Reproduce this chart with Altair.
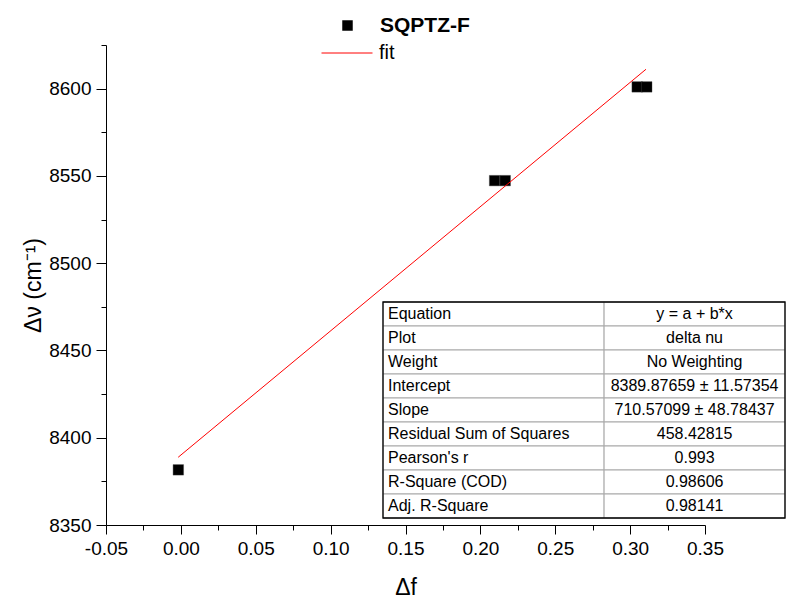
import altair as alt
import pandas as pd

# data
x_pts = [-0.0017, 0.2095, 0.2166, 0.3047, 0.3111]
y_pts = [8381.6, 8547.3, 8547.3, 8601.0, 8601.0]
fit_x = [-0.0018, 0.3106]
fit_y = [8388.8, 8611.1]

x_major = [-0.05, 0.0, 0.05, 0.10, 0.15, 0.20, 0.25, 0.30, 0.35]
x_minor = [-0.025, 0.025, 0.075, 0.125, 0.175, 0.225, 0.275, 0.325]
y_major = [8350, 8400, 8450, 8500, 8550, 8600]
y_minor = [8375, 8425, 8475, 8525, 8575, 8625]

tbl_labels = ["Equation", "Plot", "Weight", "Intercept", "Slope",
              "Residual Sum of Squares", "Pearson's r", "R-Square (COD)", "Adj. R-Square"]
tbl_values = ["y = a + b*x", "delta nu", "No Weighting", "8389.87659 ± 11.57354",
              "710.57099 ± 48.78437", "458.42815", "0.993", "0.98606", "0.98141"]

FONT = "Liberation Sans"
XD = [-0.05, 0.35]
YD = [8350, 8625]

pts = pd.DataFrame({"x": x_pts, "y": y_pts, "s": ["SQPTZ-F"] * len(x_pts)})
fit = pd.DataFrame({"x": fit_x, "y": fit_y, "s": ["fit"] * len(fit_x)})

xs = alt.Scale(domain=XD, nice=False, zero=False)
ys = alt.Scale(domain=YD, nice=False, zero=False)

axis_common = dict(domainColor="black", tickColor="black", labelColor="black",
                   labelFont=FONT, titleFont=FONT, titleColor="black",
                   grid=False, domainWidth=1, tickWidth=1, labelFlush=False)

points = alt.Chart(pts).mark_square(size=110, opacity=1, stroke="#444", strokeWidth=0.4).encode(
    x=alt.X("x:Q", scale=xs, axis=alt.Axis(
        values=x_major, orient="bottom", tickSize=9, labelPadding=5, labelFontSize=19,
        labelExpr="replace(format(datum.value, '.2f'), '\u2212', '-')",
        title="Δf", titleFontSize=23, titleFontWeight="normal", titlePadding=18,
        **axis_common)),
    y=alt.Y("y:Q", scale=ys, axis=alt.Axis(
        values=y_major, orient="left", tickSize=10, labelPadding=5, labelFontSize=19,
        format="d", title="Δν (cm⁻¹)", titleFontSize=23, titleFontWeight="normal",
        titlePadding=3, **axis_common)),
    fill=alt.Fill("s:N", scale=alt.Scale(domain=["SQPTZ-F"], range=["black"]),
                  legend=alt.Legend(title=None, orient="none", legendX=231, legendY=-30,
                                    symbolType="square", symbolSize=110, symbolFillColor="black",
                                    symbolStrokeWidth=0, labelFont=FONT, labelFontSize=21,
                                    labelFontWeight="bold", labelColor="black",
                                    labelOffset=22, padding=0)),
)

line = alt.Chart(fit).mark_line(strokeWidth=1).encode(
    x=alt.X("x:Q", scale=xs),
    y=alt.Y("y:Q", scale=ys),
    stroke=alt.Stroke("s:N", scale=alt.Scale(domain=["fit"], range=["#ff0000"]),
                      legend=alt.Legend(title=None, orient="none", legendX=215, legendY=-18,
                                        symbolType="stroke", symbolSize=2601,
                                        symbolStrokeWidth=1, labelFont=FONT, labelFontSize=20,
                                        labelColor="black", labelOffset=6, padding=0)),
)

main = alt.layer(points, line)

minor_df = pd.DataFrame({"x": [XD[0]], "y": [YD[0]]})
minor = alt.Chart(minor_df).mark_point(opacity=0).encode(
    x=alt.X("x:Q", scale=alt.Scale(domain=XD, nice=False, zero=False), axis=alt.Axis(
        values=x_minor, orient="bottom", tickSize=5, labels=False, domain=False,
        title=None, grid=False, tickColor="black")),
    y=alt.Y("y:Q", scale=alt.Scale(domain=YD, nice=False, zero=False), axis=alt.Axis(
        values=y_minor, orient="left", tickSize=5, labels=False, domain=False,
        title=None, grid=False, tickColor="black")),
)

# table
n = len(tbl_labels)
tdf = pd.DataFrame({
    "r": list(range(n)), "r2": [i + 1 for i in range(n)], "rm": [i + 0.5 for i in range(n)],
    "lab": tbl_labels, "val": tbl_values,
})
DIV = 0.55
txs = alt.Scale(domain=[0, 1], range=[277, 679], nice=False, zero=False)
tys = alt.Scale(domain=[0, n], range=[257, 473], nice=False, zero=False)

cell1 = alt.Chart(tdf).mark_rect(fill="white", stroke="#a8a8a8", strokeWidth=1).encode(
    x=alt.X("c0:Q", scale=txs, axis=None), x2="c1:Q",
    y=alt.Y("r:Q", scale=tys, axis=None), y2="r2:Q",
).transform_calculate(c0="0", c1=str(DIV))
cell2 = alt.Chart(tdf).mark_rect(fill="white", stroke="#a8a8a8", strokeWidth=1).encode(
    x=alt.X("c0:Q", scale=txs, axis=None), x2="c1:Q",
    y=alt.Y("r:Q", scale=tys, axis=None), y2="r2:Q",
).transform_calculate(c0=str(DIV), c1="1")
outer = alt.Chart(pd.DataFrame({"a": [0], "b": [1], "c": [0], "d": [n]})).mark_rect(
    fill=None, stroke="black", strokeWidth=1.3).encode(
    x=alt.X("a:Q", scale=txs, axis=None), x2="b:Q",
    y=alt.Y("c:Q", scale=tys, axis=None), y2="d:Q",
)
t1 = alt.Chart(tdf).mark_text(align="left", baseline="middle", dx=5, font=FONT,
                              fontSize=16, color="black").encode(
    x=alt.X("c0:Q", scale=txs, axis=None), y=alt.Y("rm:Q", scale=tys, axis=None), text="lab:N",
).transform_calculate(c0="0")
t2 = alt.Chart(tdf).mark_text(align="center", baseline="middle", font=FONT,
                              fontSize=16, color="black").encode(
    x=alt.X("c0:Q", scale=txs, axis=None), y=alt.Y("rm:Q", scale=tys, axis=None), text="val:N",
).transform_calculate(c0=str((DIV + 1) / 2))
table = alt.layer(cell1, cell2, outer, t1, t2)

chart = alt.layer(main, minor, table).resolve_scale(
    x="independent", y="independent"
).properties(
    width=599, height=480,
    autosize=alt.AutoSizeParams(type="none"),
    padding={"left": 106, "top": 45, "right": 93, "bottom": 74},
    background="white",
).configure_view(stroke=None)

chart.save("out.html", embed_options={"renderer": "svg", "actions": False})
